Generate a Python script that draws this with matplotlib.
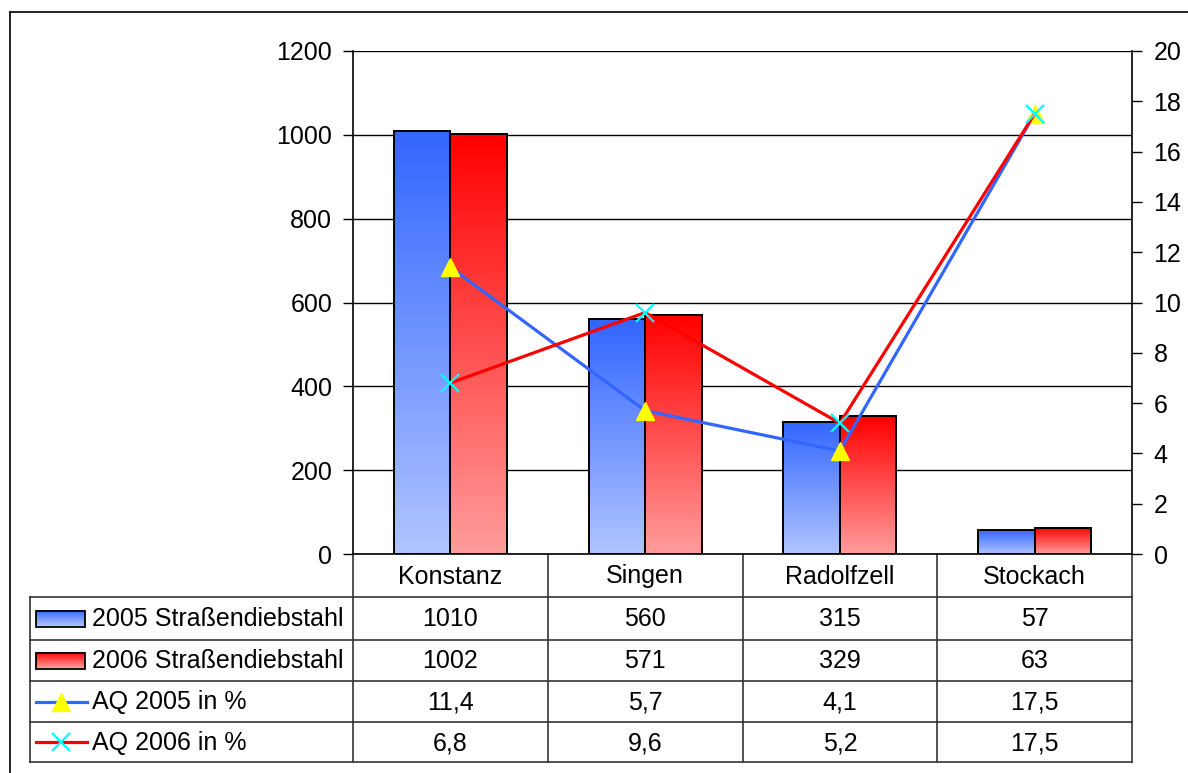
import numpy as np
import matplotlib
matplotlib.use('Agg')
import matplotlib.pyplot as plt
from matplotlib.colors import to_rgb

plt.rcParams['font.family'] = ['Liberation Sans', 'DejaVu Sans']

# --- data
orte = ['Konstanz', 'Singen', 'Radolfzell', 'Stockach']
diebstahl_2005 = [1010, 560, 315, 57]
diebstahl_2006 = [1002, 571, 329, 63]
aq_2005 = [11.4, 5.7, 4.1, 17.5]
aq_2006 = [6.8, 9.6, 5.2, 17.5]
serien = ['2005 Straßendiebstahl', '2006 Straßendiebstahl', 'AQ 2005 in %', 'AQ 2006 in %']

W, H = 1188, 773
FS = 18
blau_top, blau_bot = '#3366FF', '#B0C4FF'
rot_top, rot_bot = '#FF0000', '#FF9C9C'


def grad(top, bot, n=100):
    t = np.linspace(0, 1, n)[:, None]
    a, b = np.array(to_rgb(top)), np.array(to_rgb(bot))
    return (a + (b - a) * t)[:, None, :]


def fx(px):
    return px / W


def fy(py):
    return 1 - py / H


fig = plt.figure(figsize=(W / 100, H / 100), dpi=100)

# plot area in pixel box 353..1132, 51..554
L, R, T, B = 353, 1132, 51, 554
ax = fig.add_axes([fx(L), fy(B), (R - L) / W, (B - T) / H])

bw = 0.29
x = np.arange(len(orte))
for i in range(len(orte)):
    ax.imshow(grad(blau_top, blau_bot), extent=[i - bw, i, 0, diebstahl_2005[i]],
              aspect='auto', zorder=2, interpolation='bilinear')
    ax.imshow(grad(rot_top, rot_bot), extent=[i, i + bw, 0, diebstahl_2006[i]],
              aspect='auto', zorder=2, interpolation='bilinear')
ax.bar(x - bw, diebstahl_2005, width=bw, align='edge', facecolor='none',
       edgecolor='black', lw=1.4, zorder=3)
ax.bar(x, diebstahl_2006, width=bw, align='edge', facecolor='none',
       edgecolor='black', lw=1.4, zorder=3)

ax.set_xlim(-0.5, 3.5)
ax.set_ylim(0, 1200)
ax.set_yticks(range(0, 1201, 200))
ax.set_xticks([])
ax.yaxis.grid(True, color='black', lw=1)
ax.set_axisbelow(True)
ax.tick_params(axis='y', direction='out', length=7, width=1, pad=8, labelsize=FS)
for s in ['top', 'right']:
    ax.spines[s].set_visible(False)
ax.spines['left'].set_linewidth(1.2)
ax.spines['bottom'].set_linewidth(1.2)

ax2 = ax.twinx()
ax2.plot(x, aq_2005, color='#3366FF', lw=2.3, marker='^', ms=13,
         mfc='yellow', mec='yellow', zorder=4)
ax2.plot(x, aq_2006, color='red', lw=2.3, marker='x', ms=13,
         mec='cyan', mew=1.6, zorder=5)
ax2.set_ylim(0, 20)
ax2.set_yticks(range(0, 21, 2))
ax2.tick_params(axis='y', direction='out', length=7, width=1, pad=8.5, labelsize=FS)
for s in ['top', 'left', 'bottom']:
    ax2.spines[s].set_visible(False)
ax2.spines['right'].set_linewidth(1.2)

# --- data table under the chart (pixel coordinates)
tab = fig.add_axes([0, 0, 1, 1], zorder=-1)
tab.set_xlim(0, W)
tab.set_ylim(H, 0)
tab.axis('off')

cols = [L + k * (R - L) / 4 for k in range(5)]
rows = [554, 597, 640, 681, 722, 762]
tl = 30
for yy in rows[1:]:
    tab.plot([tl, R], [yy, yy], color='#333333', lw=1.2)
tab.plot([tl, tl], [rows[1], rows[-1]], color='#333333', lw=1.2)
for cx in cols:
    tab.plot([cx, cx], [rows[0], rows[-1]], color='#333333', lw=1.2)

for i, name in enumerate(orte):
    cx = (cols[i] + cols[i + 1]) / 2
    tab.text(cx, (rows[0] + rows[1]) / 2 + 1, name, ha='center', va='center', fontsize=FS)

werte = [
    [str(v) for v in diebstahl_2005],
    [str(v) for v in diebstahl_2006],
    [f'{v:.1f}'.replace('.', ',') for v in aq_2005],
    [f'{v:.1f}'.replace('.', ',') for v in aq_2006],
]
for r in range(4):
    yc = (rows[r + 1] + rows[r + 2]) / 2 + 1
    tab.text(92, yc, serien[r], ha='left', va='center', fontsize=FS)
    for i in range(4):
        cx = (cols[i] + cols[i + 1]) / 2
        tab.text(cx, yc, werte[r][i], ha='center', va='center', fontsize=FS)

# legend keys
for r, (top, bot) in enumerate([(blau_top, blau_bot), (rot_top, rot_bot)]):
    yc = (rows[r + 1] + rows[r + 2]) / 2
    tab.imshow(grad(top, bot), extent=[36, 85, yc + 8, yc - 8], aspect='auto',
               interpolation='bilinear', zorder=2)
    tab.add_patch(plt.Rectangle((36, yc - 8), 49, 16, fill=False, ec='black', lw=1.3, zorder=3))
yc = (rows[3] + rows[4]) / 2
tab.plot([36, 87], [yc, yc], color='#3366FF', lw=2.3)
tab.plot([61], [yc], marker='^', ms=13, mfc='yellow', mec='yellow')
yc = (rows[4] + rows[5]) / 2
tab.plot([36, 87], [yc, yc], color='red', lw=2.3)
tab.plot([61], [yc], marker='x', ms=13, mec='cyan', mew=1.6)

# outer frame (cut at right and bottom)
tab.plot([10, W], [12, 12], color='black', lw=1.2)
tab.plot([10, 10], [12, H], color='black', lw=1.2)
tab.set_xlim(0, W)
tab.set_ylim(H, 0)

fig.savefig('out.png', dpi=100)
